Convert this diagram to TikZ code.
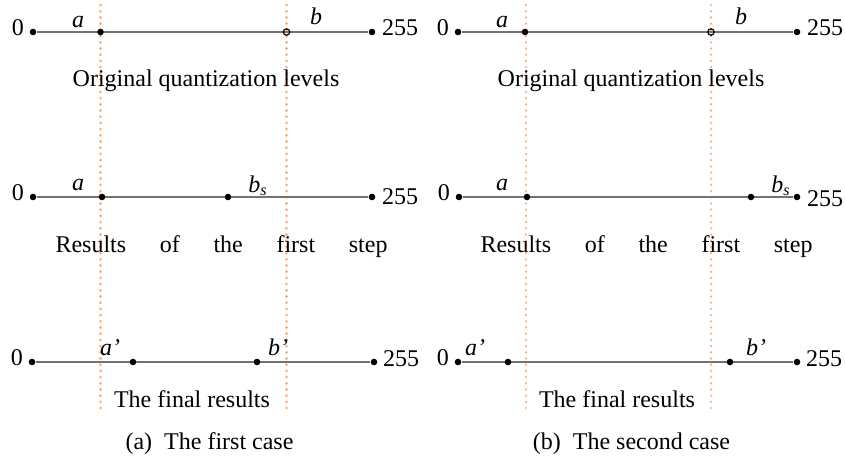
\documentclass[tikz,border=0pt]{standalone}
\usepackage{fontspec}
\setmainfont{Liberation Serif}
\usetikzlibrary{positioning}
\definecolor{guide}{HTML}{F4B183}
\tikzset{
	lvl/.style={circle, fill=black, inner sep=0pt, minimum size=3.3pt},
	lvlopen/.style={circle, draw=black, line width=0.6pt, inner sep=0pt, minimum size=3.2pt},
	axis/.style={draw=black!55, line width=1pt},
	guideline/.style={draw=guide, line width=1.4pt, line cap=round, dash pattern=on 0.1pt off 3pt},
	lab/.style={anchor=base, inner sep=0pt},
}
\begin{document}
\begin{tikzpicture}[x=0.5pt, y=-0.5pt, font=\fontsize{12}{14}\selectfont]
		\useasboundingbox (0,0) rectangle (845,455);

		\coordinate (gLa) at (100.5,5);   \coordinate (gLa2) at (100.5,408);
		\coordinate (gLb) at (286.5,5);   \coordinate (gLb2) at (286.5,408);
		\coordinate (gRa) at (526,5);     \coordinate (gRa2) at (526,408);
		\coordinate (gRb) at (711,5);     \coordinate (gRb2) at (711,408);
		\draw[guideline] (gLa) -- (gLa2);
		\draw[guideline] (gLb) -- (gLb2);
		\draw[guideline] (gRa) -- (gRa2);
		\draw[guideline] (gRb) -- (gRb2);

		\node[lvl] (L1min) at (33,32) {};
		\node[lvl] (L1max) at (372,32) {};
		\draw[axis] (L1min) -- (L1max);
		\node[lvl] (L1a) at (100.5,32) {};
		\node[lvlopen] (L1b) at (286.5,32) {};
		\node[left=1pt, yshift=2pt] at (L1min) {0};
		\node[right=1.5pt, yshift=2pt] at (L1max) {255};
		\node[lab] at (78,27) {\textit{a}};
		\node[lab] at (316,25) {\textit{b}};
		\node[lab] at (206,86) {Original quantization levels};

		\node[lvl] (L2min) at (33,197) {};
		\node[lvl] (L2max) at (372,197) {};
		\draw[axis] (L2min) -- (L2max);
		\node[lvl] (L2a) at (102,197) {};
		\node[lvl] (L2bs) at (228,197) {};
		\node[left=1pt, yshift=2pt] at (L2min) {0};
		\node[right=1.5pt, yshift=0pt] at (L2max) {255};
		\node[lab] at (78,190) {\textit{a}};
		\node[lab] at (258,192) {\textit{b}\textsubscript{\textit{s}}};
		\node[lab] at (221.5,252) {\makebox[166pt][s]{Results of the first step}};

		\node[lvl] (L3min) at (32,362) {};
		\node[lvl] (L3max) at (374,362) {};
		\draw[axis] (L3min) -- (L3max);
		\node[lvl] (L3a) at (133,362) {};
		\node[lvl] (L3b) at (257,362) {};
		\node[left=1pt, yshift=2pt] at (L3min) {0};
		\node[right=1pt, yshift=1.5pt] at (L3max) {255};
		\node[lab] at (110,355) {\textit{a’}};
		\node[lab] at (278,355) {\textit{b’}};
		\node[lab] at (192,407) {The final results};
		\node[lab] at (209.5,449) {(a)\enspace The first case};

		\node[lvl] (R1min) at (458,32) {};
		\node[lvl] (R1max) at (797,32) {};
		\draw[axis] (R1min) -- (R1max);
		\node[lvl] (R1a) at (525,32) {};
		\node[lvlopen] (R1b) at (711,32) {};
		\node[left=1pt, yshift=2pt] at (R1min) {0};
		\node[right=1.5pt, yshift=2pt] at (R1max) {255};
		\node[lab] at (502,27) {\textit{a}};
		\node[lab] at (741,25) {\textit{b}};
		\node[lab] at (631,86) {Original quantization levels};

		\node[lvl] (R2min) at (459,197) {};
		\node[lvl] (R2max) at (797,197) {};
		\draw[axis] (R2min) -- (R2max);
		\node[lvl] (R2a) at (527,197) {};
		\node[lvl] (R2bs) at (751,197) {};
		\node[left=1pt, yshift=2pt] at (R2min) {0};
		\node[right=1.5pt, yshift=-1pt] at (R2max) {255};
		\node[lab] at (502,190) {\textit{a}};
		\node[lab] at (781,192) {\textit{b}\textsubscript{\textit{s}}};
		\node[lab] at (646.5,252) {\makebox[166pt][s]{Results of the first step}};

		\node[lvl] (R3min) at (458,362) {};
		\node[lvl] (R3max) at (797,362) {};
		\draw[axis] (R3min) -- (R3max);
		\node[lvl] (R3a) at (508,362) {};
		\node[lvl] (R3b) at (730,362) {};
		\node[left=1pt, yshift=2pt] at (R3min) {0};
		\node[right=1pt, yshift=1.5pt] at (R3max) {255};
		\node[lab] at (475,355) {\textit{a’}};
		\node[lab] at (756,355) {\textit{b’}};
		\node[lab] at (617,407) {The final results};
		\node[lab] at (631.5,449) {(b)\enspace The second case};

	\end{tikzpicture}
\end{document}
